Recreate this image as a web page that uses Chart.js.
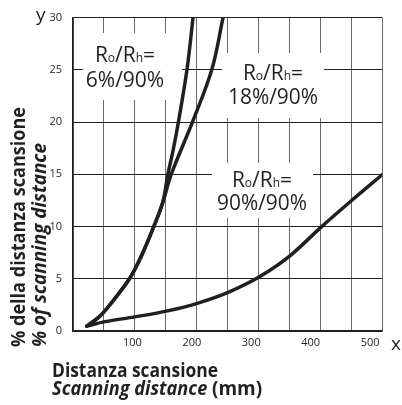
<!DOCTYPE html>
<html>
<head>
<meta charset="utf-8">
<script src="https://cdn.jsdelivr.net/npm/chart.js@4"></script>
<style>
  body { margin: 0; background: #fff; }
  #wrap { width: 402px; height: 405px; }
</style>
</head>
<body>
<div id="wrap"><canvas id="myChart" width="402" height="405"></canvas></div>
<script>
// curve readings: scanning distance (mm) and % of scanning distance
const dist6 = [23, 43, 59, 95, 116, 136, 151, 160, 168.5, 178, 192, 202];
const pct6 = [0.47, 1.3, 2.3, 5.0, 7.3, 10.0, 12.3, 15.1, 17.3, 20.2, 25.1, 30];

const dist18 = [23, 43, 59, 95, 116, 136, 151, 166, 202.5, 234, 252.5];
const pct18 = [0.47, 1.3, 2.3, 5.0, 7.3, 10.0, 12.3, 15.1, 20.2, 25.1, 30];

const dist90 = [23, 54, 104, 157, 209, 261, 313, 365, 418, 470, 520];
const pct90 = [0.47, 0.9, 1.35, 1.9, 2.65, 3.7, 5.17, 7.2, 9.97, 12.55, 14.96];

const xTicks = [100, 200, 300, 400, 500];
const labels = ['6%/90%', '18%/90%', '90%/90%'];

const ink = '#231f20';
const pts = (xs, ys) => xs.map((x, i) => ({ x: x, y: ys[i] }));

function line(data) {
    return {
        data: data,
        borderColor: ink,
        borderWidth: 3.5,
        borderCapStyle: 'round',
        borderJoinStyle: 'round',
        pointRadius: 0,
        tension: 0.35,
        fill: false
    };
}

function ratioLabel(ctx, cx, y1, y2, text, w2) {
    const big = '21px "Open Sans"', small = '12px "Open Sans"';
    const parts = [['R', big], ['o', small], ['/R', big], ['h', small], ['=', big]];
    let total = 0;
    parts.forEach(p => { ctx.font = p[1]; total += ctx.measureText(p[0]).width; });
    let x = cx - total / 2;
    ctx.textAlign = 'left';
    parts.forEach(p => {
        ctx.font = p[1];
        ctx.fillText(p[0], x, y1);
        x += ctx.measureText(p[0]).width;
    });
    ctx.font = big;
    ctx.textAlign = 'center';
    ctx.fillText(text, cx, y2, w2);
}

const textPlugin = {
    id: 'texts',
    beforeDatasetsDraw(chart) {
        const ctx = chart.ctx;
        ctx.save();
        ctx.fillStyle = '#fff';
        ctx.fillRect(83, 33, 99, 67);
        ctx.fillRect(222, 53, 102, 65);
        ctx.fillRect(212, 163, 101, 55);
        ctx.fillStyle = ink;
        ctx.textBaseline = 'alphabetic';
        ratioLabel(ctx, 125, 62, 87, labels[0], 79);
        ratioLabel(ctx, 273, 80, 104, labels[1], 90);
        ratioLabel(ctx, 262, 187, 210, labels[2], 90);
        ctx.restore();
    },
    afterDraw(chart) {
        const ctx = chart.ctx;
        ctx.save();
        ctx.fillStyle = ink;
        ctx.textBaseline = 'alphabetic';
        ctx.textAlign = 'left';

        // axis letters
        ctx.font = '19px "Open Sans"';
        ctx.fillText('y', 36, 21);
        ctx.fillText('x', 391, 350);

        // x title
        ctx.font = 'bold 19px "Open Sans"';
        ctx.fillText('Distanza scansione', 52, 377, 166);
        ctx.font = 'italic bold 19px "Open Sans"';
        const s = 'Scanning distance ';
        ctx.fillText(s, 52, 395, 160);
        const sw = Math.min(ctx.measureText(s).width, 160);
        ctx.font = 'bold 19px "Open Sans"';
        ctx.fillText('(mm)', 52 + sw, 395);

        // y title
        ctx.translate(25, 347);
        ctx.rotate(-Math.PI / 2);
        ctx.font = 'bold 19px "Open Sans"';
        ctx.fillText('% della distanza scansione', 0, 0, 240);
        ctx.font = 'italic bold 19px "Open Sans"';
        ctx.fillText('% of scanning distance', 0, 21, 204);
        ctx.restore();
    }
};

const ctx = document.getElementById('myChart');

var chart = new Chart(ctx, {
    type: 'line',
    data: {
        datasets: [
            line(pts(dist6, pct6)),
            line(pts(dist18, pct18)),
            line(pts(dist90, pct90))
        ]
    },
    options: {
        responsive: false,
        animation: false,
        layout: { padding: { left: 0, top: 12, right: 20, bottom: 0 } },
        plugins: {
            legend: { display: false },
            tooltip: { enabled: false }
        },
        scales: {
            x: {
                type: 'linear',
                position: 'bottom',
                min: 0,
                max: 520,
                afterBuildTicks: s => { s.ticks = xTicks.map(v => ({ value: v })); },
                afterFit: s => { s.height = 74; },
                ticks: {
                    color: ink,
                    font: { family: 'Open Sans', size: 11 },
                    padding: 5,
                    maxRotation: 0
                },
                grid: { display: false, drawTicks: false },
                border: { color: ink, width: 1.5 }
            },
            x2: {
                type: 'linear',
                position: 'bottom',
                min: 0,
                max: 520,
                afterFit: s => { s.height = 0; },
                ticks: { display: false, stepSize: 52 },
                grid: { color: '#6a6a6a', lineWidth: 1, drawTicks: false },
                border: { display: false }
            },
            y: {
                min: 0,
                max: 30,
                afterFit: s => { s.width = 73; },
                ticks: {
                    stepSize: 5,
                    color: ink,
                    font: { family: 'Open Sans', size: 11 },
                    padding: 11
                },
                grid: { color: ink, lineWidth: 1, drawTicks: false },
                border: { color: ink, width: 1.5 }
            }
        }
    },
    plugins: [textPlugin]
});
</script>
</body>
</html>
